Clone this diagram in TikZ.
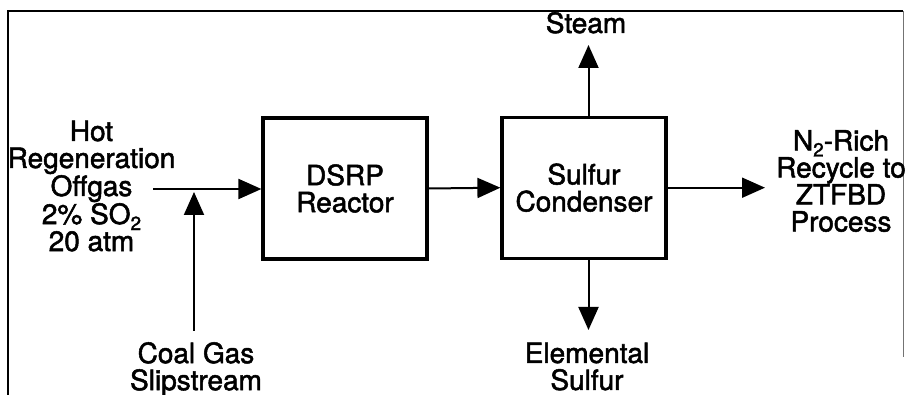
\documentclass[tikz,border=0pt]{standalone}
\usepackage{fontspec}
\setmainfont{TeX Gyre Heros}[RawFeature={embolden=1.8}]
\usetikzlibrary{arrows.meta}
\newcommand{\labfont}{\fontsize{28}{27}\selectfont}
\newcommand{\subtwo}{\smash{\raisebox{-6pt}{\fontsize{19}{19}\selectfont 2}}}
\tikzset{
  lbl/.style={font=\labfont, align=center, inner sep=0pt},
  unitbox/.style={draw, line width=3.2pt, minimum width=164pt, minimum height=141pt,
    font=\labfont, align=center, inner sep=0pt},
  flow/.style={line width=2pt, -{Triangle[length=23pt,width=20pt]}},
}
\begin{document}
\begin{tikzpicture}[x=1pt,y=-1pt]
\useasboundingbox (0,0) rectangle (906,395);
% frame
\draw[line width=2.4pt] (8,395) -- (8,11) -- (903,11);
\draw[line width=0.8pt, black!55] (903,11) -- (903,357);
% units
\node[unitbox] (dsrp) at (345,188.5) {DSRP\\Reactor};
\node[unitbox] (cond) at (584,187.7) {Sulfur\\Condenser};
% labels
\node[lbl] (hot) at (91.5,186) {Hot\\Regeneration\\Offgas\\2\% SO\subtwo\\20 atm};
\node[lbl] (coal) at (196,369.2) {Coal Gas\\Slipstream};
\node[lbl, anchor=base] (steam) at (586,33) {Steam};
\node[lbl] (elem) at (587,366.5) {Elemental\\Sulfur};
\node[lbl] (rich) at (841,181) {N\subtwo-Rich\\Recycle to\\ZTFBD\\Process};
% connectors
\coordinate (offin) at (153,189);
\draw[flow] (offin) -- (offin -| dsrp.west);
\coordinate (coalout) at (194,331);
\coordinate (join) at (194,192);
\draw[flow] (coalout) -- (join);
\draw[flow] (dsrp.east) -- (cond.west);
\coordinate (recin) at (765,187);
\draw[flow] (cond.east) -- (cond.east -| recin);
\coordinate (steamtip) at (588.5,45);
\draw[flow] (cond.north -| steamtip) -- (steamtip);
\coordinate (sulftip) at (588.5,330);
\draw[flow] (cond.south -| sulftip) -- (sulftip);
\end{tikzpicture}
\end{document}
